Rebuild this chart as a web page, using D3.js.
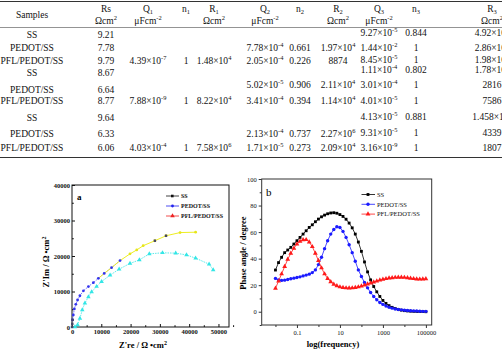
<!DOCTYPE html>
<html><head><meta charset="utf-8">
<script src="https://cdn.jsdelivr.net/npm/d3@7"></script>
<style>body{margin:0;background:#fff}svg{display:block;font-family:"Liberation Serif","Times New Roman",serif}</style>
</head><body>
<svg id="c" width="502" height="350" font-family="Liberation Serif"></svg>
<script>
// ---------- table data ----------
const headTop = ["Samples","Rs","Q_1","n_1","R_1","Q_2","n_2","R_2","Q_3","n_3","R_3"];
const headBot = ["","Ωcm^2","μFcm^-2","","Ωcm^2","μFcm^-2","","Ωcm^2","μFcm^-2","","Ωcm^2"];
const samples = ["SS","PEDOT/SS","PFL/PEDOT/SS","SS","PEDOT/SS","PFL/PEDOT/SS","SS","PEDOT/SS","PFL/PEDOT/SS"];
const Rs = ["9.21","7.78","9.79","8.67","6.64","8.77","9.64","6.33","6.06"];
const Q1 = ["","","4.39×10^-7","","","7.88×10^-9","","","4.03×10^-4"];
const n1 = ["","","1","","","1","","","1"];
const R1 = ["","","1.48×10^4","","","8.22×10^4","","","7.58×10^6"];
const Q2 = ["","7.78×10^-4","2.05×10^-4","","5.02×10^-5","3.41×10^-4","","2.13×10^-4","1.71×10^-5"];
const n2 = ["","0.661","0.226","","0.906","0.394","","0.737","0.273"];
const R2 = ["","1.97×10^4","8874","","2.11×10^4","1.14×10^4","","2.27×10^6","2.09×10^4"];
const Q3 = ["9.27×10^-5","1.44×10^-2","8.45×10^-5","1.11×10^-4","3.01×10^-4","4.01×10^-5","4.13×10^-5","9.31×10^-5","3.16×10^-9"];
const n3 = ["0.844","1","1","0.802","1","1","0.881","1","1"];
const R3 = ["4.92×10^4","2.86×10^4","1.98×10^4","1.78×10^4","2816","7586","1.458×10^4","4339","1807"];

// ---------- Nyquist (a) data ----------
const nyqSeries = ["SS","PEDOT/SS","PFL/PEDOT/SS"];
const blueX = [200,450,800,1300,1900,2700,3900,5600,7300,9000,11000,13500,16400];
const blueY = [2000,3400,5100,6400,7600,8800,10200,11400,12500,13700,15100,16700,18700];
const yellowX = [9000,11000,13500,16400,19800,22100,24300,28300,32100,36900,42200];
const yellowY = [13700,15100,16700,18700,20600,21700,22900,24300,25700,26600,26700];
const darkX = [0,100,200,28300,32100];
const darkY = [0,900,2000,24300,25700];
const cyanX = [1000,1900,2700,3500,4400,5600,6700,8400,10100,13000,16100,19800,23000,26400,30900,35400,39100,42200,46800,48200];
const cyanY = [0,600,2400,4800,6700,8500,9900,11400,12800,14600,16300,17900,18900,20600,20900,20800,20300,19400,17700,16100];
const nyqXTicks = [0,10000,20000,30000,40000,50000];
const nyqYTicks = [0,10000,20000,30000,40000];

// ---------- Bode (b) data ----------
const freq = [0.01,0.0139,0.0193,0.0268,0.0373,0.0518,0.072,
  0.1,0.139,0.193,0.268,0.373,0.518,0.72,
  1,1.39,1.93,2.68,3.73,5.18,7.2,
  10,13.9,19.3,26.8,37.3,51.8,72,
  100,139,193,268,373,518,720,
  1000,1390,1930,2680,3730,5180,7200,
  10000,13900,19300,26800,37300,51800,72000,
  100000];
const phaseSS = [31.4,37,41,44.5,46.5,48.5,51,
  53.5,56,58.5,61,63.5,65.5,67.8,
  69.8,71.5,72.8,73.8,74.4,74.6,74.2,
  73.2,71.8,69.7,66.8,63.2,58.5,52.5,
  45.5,37.5,30,24,19,15,11.5,
  8.5,6.3,4.6,3.3,2.4,1.7,1.2,
  0.8,0.6,0.4,0.3,0.2,0.1,0.1,
  0];
const phasePEDOT = [25.1,24,23.6,23.8,24.3,24.8,25.3,
  25.8,26.3,27,27.6,28.3,29.5,31.5,
  35.5,41,47.5,53.5,58.5,62,64,
  63.5,60.5,56,50.5,44.5,38,31.5,
  26.5,22,18,14.5,11.5,9,7,
  5.5,4.3,3.4,2.7,2.1,1.7,1.4,
  1.1,0.9,0.7,0.6,0.5,0.4,0.3,
  0.3];
const phasePFL = [17.6,23,28.5,34,39.5,44,47.8,
  51,53,54.2,54.3,52.5,49,44,
  38.5,33,28.5,25,22.5,20.7,19.5,
  18.7,18.2,17.9,17.8,17.9,18.2,18.7,
  19.3,20,20.8,21.6,22.4,23.1,23.8,
  24.4,24.9,25.3,25.6,25.8,25.9,25.9,
  25.8,25.5,25.2,24.9,24.6,24.5,24.6,
  24.8];
const bodeXTicks = [0.1,10,1000,100000];
const bodeXMinor = [0.01,1,100,10000];
const bodeYTicks = [0,20,40,60,80,100];
const bodeYMinor = [-10,10,30,50,70,90];

// ---------- drawing ----------
const SERIF = "Liberation Serif";
const svg = d3.select("#c");

function rich(sel, str, fs){
  const m = str.match(/^([^\^_]*)([\^_])(.*)$/);
  if(!m){ sel.text(str); return; }
  sel.append("tspan").text(m[1]);
  sel.append("tspan").attr("font-size", fs*0.68).attr("dy", m[2]==="^" ? -fs*0.38 : fs*0.25).text(m[3]);
}

// table
const T = svg.append("g").attr("font-size", 9.5).attr("font-family",SERIF).attr("fill","#111");
const colX = [32, 106, 148, 186, 214, 265, 300, 338, 379, 416, 492];
const cols = [samples, Rs, Q1, n1, R1, Q2, n2, R2, Q3, n3, R3];
T.append("line").attr("x1",0).attr("x2",502).attr("y1",1.5).attr("y2",1.5).attr("stroke","#333").attr("stroke-width",1.2);
T.append("line").attr("x1",0).attr("x2",502).attr("y1",27.5).attr("y2",27.5).attr("stroke","#666").attr("stroke-width",0.7);
T.append("line").attr("x1",0).attr("x2",502).attr("y1",157.5).attr("y2",157.5).attr("stroke","#333").attr("stroke-width",1.2);
headTop.forEach((h,i)=>{
  const y = i===0 ? 18 : 12;
  rich(T.append("text").attr("x",colX[i]).attr("y",y).attr("text-anchor","middle"), h, 9.5);
  if(headBot[i]) rich(T.append("text").attr("x",colX[i]).attr("y",24).attr("text-anchor","middle"), headBot[i], 9.5);
});
const rowYL = [38,51,64,76,93,104,121,137,151];
const rowYR = [36,51,63,73,88,104,120,136,151];
cols.forEach((col,c)=>{
  col.forEach((v,r)=>{
    if(!v) return;
    const y = c>=8 ? rowYR[r] : (c>=5 && r===4 ? rowYR[r] : rowYL[r]);
    rich(T.append("text").attr("x",colX[c]).attr("y",y).attr("text-anchor","middle"), v, 9.5);
  });
});

// ---------- chart a ----------
const A = svg.append("g").attr("font-family",SERIF);
const ax = d3.scaleLinear([0,53600],[72,229]);
const ay = d3.scaleLinear([0,40000],[327,185]);
A.append("rect").attr("x",72).attr("y",185).attr("width",157).attr("height",142).attr("fill","none").attr("stroke","#111").attr("stroke-width",1);
A.append("g").attr("transform","translate(0,327)")
  .call(d3.axisBottom(ax).tickValues(nyqXTicks).tickSize(-3).tickPadding(2).tickFormat(d3.format("d")));
A.append("g").attr("transform","translate(72,0)")
  .call(d3.axisLeft(ay).tickValues(nyqYTicks).tickSize(-3).tickPadding(2).tickFormat(d3.format("d")));
A.append("g").attr("transform","translate(0,327)").call(d3.axisBottom(ax).tickValues(nyqXTicks.map(d=>d+5000)).tickSize(-1.8).tickFormat(""));
A.append("g").attr("transform","translate(72,0)").call(d3.axisLeft(ay).tickValues(nyqYTicks.slice(0,4).map(d=>d+5000)).tickSize(-1.8).tickFormat(""));
A.selectAll(".domain").remove();
A.selectAll(".tick text").attr("font-size",6.5).attr("font-weight","bold").attr("font-family",SERIF).attr("fill","#111");
A.selectAll(".tick line").attr("stroke","#111");

const lineA = d3.line().x(d=>ax(d[0])).y(d=>ay(d[1]));
const zip = (xs,ys)=>xs.map((x,i)=>[x,ys[i]]);
A.append("path").attr("d",lineA(zip(cyanX,cyanY))).attr("fill","none").attr("stroke","#33e6e6").attr("stroke-width",0.8).attr("stroke-dasharray","1.5,1");
A.append("path").attr("d",lineA(zip(blueX,blueY))).attr("fill","none").attr("stroke","#4444ff").attr("stroke-width",0.7).attr("stroke-dasharray","1.5,1");
A.append("path").attr("d",lineA(zip(yellowX,yellowY))).attr("fill","none").attr("stroke","#eeee22").attr("stroke-width",1);
A.append("path").attr("d",lineA(zip(darkX.slice(0,3),darkY.slice(0,3)))).attr("fill","none").attr("stroke","#777").attr("stroke-width",0.7);
const tri = d3.symbol().type(d3.symbolTriangle).size(9);
A.selectAll(".cy").data(zip(cyanX,cyanY)).join("path").attr("d",tri).attr("transform",d=>`translate(${ax(d[0])},${ay(d[1])})`).attr("fill","#33e6e6");
A.selectAll(".ye").data(zip(yellowX.slice(4),yellowY.slice(4))).join("circle").attr("cx",d=>ax(d[0])).attr("cy",d=>ay(d[1])).attr("r",1.4).attr("fill","#e6e61a");
A.selectAll(".bl").data(zip(blueX,blueY)).join("circle").attr("cx",d=>ax(d[0])).attr("cy",d=>ay(d[1])).attr("r",1.4).attr("fill","#3333ee");
A.selectAll(".dk").data(zip(darkX,darkY)).join("rect").attr("x",d=>ax(d[0])-1.2).attr("y",d=>ay(d[1])-1.2).attr("width",2.4).attr("height",2.4).attr("fill","#444466");

// legend a
const legColA = ["#111","#2222ee","#ee2222"];
nyqSeries.forEach((s,i)=>{
  const y = 196 + i*10;
  A.append("line").attr("x1",166).attr("x2",179).attr("y1",y).attr("y2",y).attr("stroke",legColA[i]).attr("stroke-width",0.8);
  if(i===0) A.append("rect").attr("x",171).attr("y",y-1.3).attr("width",2.6).attr("height",2.6).attr("fill",legColA[i]);
  if(i===1) A.append("circle").attr("cx",172.5).attr("cy",y).attr("r",1.4).attr("fill",legColA[i]);
  if(i===2) A.append("path").attr("d",tri).attr("transform",`translate(172.5,${y})`).attr("fill",legColA[i]);
  A.append("text").attr("x",181).attr("y",y+2).attr("font-size",6).attr("font-weight","bold").attr("fill","#111").text(s);
});
A.append("text").attr("x",77).attr("y",200).attr("font-size",9).attr("font-weight","bold").text("a");
A.append("text").attr("transform","translate(49,262) rotate(-90)").attr("text-anchor","middle").attr("font-size",8.5).attr("font-weight","bold")
  .call(t=>{t.append("tspan").text("Z'Im / Ω •cm");t.append("tspan").attr("font-size",6).attr("dy",-3).text("2");});
A.append("text").attr("x",143).attr("y",347.5).attr("text-anchor","middle").attr("font-size",8.5).attr("font-weight","bold")
  .call(t=>{t.append("tspan").text("Z're / Ω •cm");t.append("tspan").attr("font-size",6).attr("dy",-3).text("2");});

// ---------- chart b ----------
const B = svg.append("g").attr("font-family",SERIF);
const bx = d3.scaleLog([Math.pow(10,-2.64),Math.pow(10,5.27)],[261.7,431.7]);
const by = d3.scaleLinear([-10,100],[325,179]);
B.append("rect").attr("x",261.7).attr("y",179).attr("width",170).attr("height",146).attr("fill","none").attr("stroke","#333").attr("stroke-width",1);
B.append("g").attr("transform","translate(0,325)").call(d3.axisBottom(bx).tickValues(bodeXTicks).tickSize(3).tickPadding(2).tickFormat(d=>String(d)));
B.append("g").attr("transform","translate(0,325)").call(d3.axisBottom(bx).tickValues(bodeXMinor).tickSize(2).tickFormat(""));
B.append("g").attr("transform","translate(261.7,0)").call(d3.axisLeft(by).tickValues(bodeYTicks).tickSize(3).tickPadding(2));
B.append("g").attr("transform","translate(261.7,0)").call(d3.axisLeft(by).tickValues(bodeYMinor).tickSize(2).tickFormat(""));
B.selectAll(".domain").remove();
B.selectAll(".tick text").attr("font-size",6.5).attr("font-family",SERIF).attr("fill","#111");
B.selectAll(".tick line").attr("stroke","#333");

const bodeSeries = [
  {name:"SS", vals:phaseSS, color:"#000000", shape:"square"},
  {name:"PEDOT/SS", vals:phasePEDOT, color:"#1a1aff", shape:"circle"},
  {name:"PFL/PEDOT/SS", vals:phasePFL, color:"#ff1a1a", shape:"triangle"}
];
const lineB = d3.line().x(d=>bx(d[0])).y(d=>by(d[1]));
const sq = d3.symbol().type(d3.symbolSquare).size(8);
const ci = d3.symbol().type(d3.symbolCircle).size(9);
const trB = d3.symbol().type(d3.symbolTriangle).size(10);
const shapes = {square:sq, circle:ci, triangle:trB};
bodeSeries.forEach(s=>{
  const pts = zip(freq, s.vals);
  B.append("path").attr("d",lineB(pts)).attr("fill","none").attr("stroke",s.color).attr("stroke-width",0.8);
  B.append("g").selectAll("path").data(pts).join("path").attr("d",shapes[s.shape])
    .attr("transform",d=>`translate(${bx(d[0])},${by(d[1])})`).attr("fill",s.color);
});
bodeSeries.forEach((s,i)=>{
  const y = 194.5 + i*9.8;
  B.append("line").attr("x1",361.5).attr("x2",375).attr("y1",y).attr("y2",y).attr("stroke",s.color).attr("stroke-width",0.8);
  B.append("path").attr("d",shapes[s.shape]).attr("transform",`translate(368,${y})`).attr("fill",s.color);
  B.append("text").attr("x",377).attr("y",y+2.3).attr("font-size",6.5).attr("fill","#111").text(s.name);
});
B.append("text").attr("x",266).attr("y",196).attr("font-size",11).text("b");
B.append("text").attr("transform","translate(246,253) rotate(-90)").attr("text-anchor","middle").attr("font-size",8.5).attr("font-weight","bold").text("Phase angle / degree");
B.append("text").attr("x",333).attr("y",347).attr("text-anchor","middle").attr("font-size",8.5).attr("font-weight","bold").text("log(frequency)");
</script>
</body></html>
